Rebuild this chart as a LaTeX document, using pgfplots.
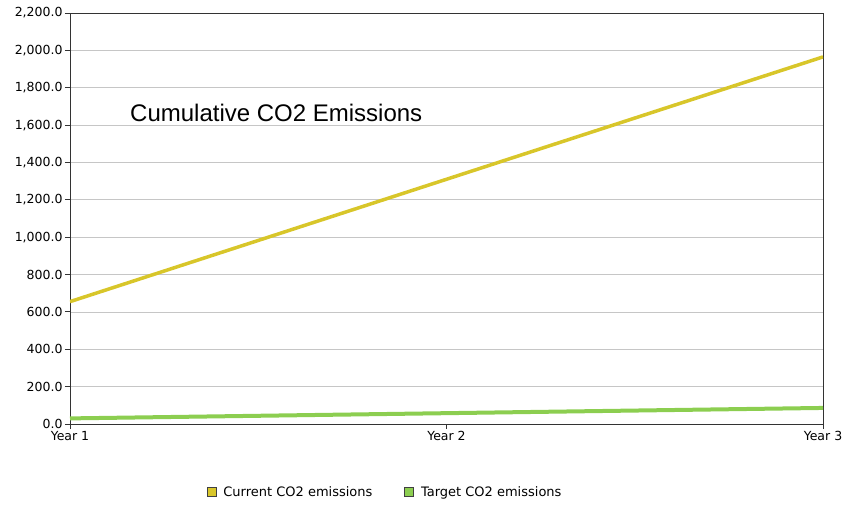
\documentclass[border=0pt]{standalone}
\usepackage{pgfplots}
\pgfplotsset{compat=1.18}
\usepackage{fontspec}
\setmainfont{DejaVu Sans}
\newfontfamily\arialfont{Liberation Sans}

\definecolor{curyel}{RGB}{216,198,42}
\definecolor{targrn}{RGB}{140,206,80}

\begin{document}
\begin{tikzpicture}
\begin{axis}[
    width=753pt, height=411pt,
    scale only axis,
    xmin=1, xmax=3,
    ymin=0, ymax=2200,
    ytick distance=200,
    xtick={1,2,3},
    xticklabels={Year 1,Year 2,Year 3},
    ymajorgrids=true,
    grid style={gray!45, line width=0.8pt},
    axis line style={black!80, line width=0.9pt},
    tick pos=left,
    tick align=outside,
    tick style={black!80, line width=0.9pt},
    major tick length=5pt,
    font=\fontsize{12.5}{14}\selectfont,
    /pgf/number format/assume math mode=true,
    yticklabel style={xshift=1pt,
        /pgf/number format/fixed,
        /pgf/number format/fixed zerofill,
        /pgf/number format/precision=1,
        /pgf/number format/1000 sep={,}},
    xticklabel style={yshift=1pt},
    legend style={at={(0.4185,-0.1655)}, anchor=center, draw=none,
        font=\fontsize{13}{15}\selectfont, legend columns=2,
        /tikz/every odd column/.append style={column sep=5pt},
        /tikz/every even column/.append style={column sep=30pt}},
    legend image code/.code={
        \draw[#1, draw=black!75, line width=0.6pt, fill] (0pt,-4.5pt) rectangle (9pt,4.5pt);
    },
]
\addplot[color=curyel, line width=3.5pt] coordinates {
    (1,655) (2,1310) (3,1965)
};
\addlegendentry{Current CO2 emissions}
\addplot[color=targrn, line width=4pt] coordinates {
    (1,30) (2,58) (3,86)
};
\addlegendentry{Target CO2 emissions}
\node[anchor=base west, font=\arialfont\fontsize{24}{28}\selectfont, inner sep=0pt]
    at (rel axis cs:0.0797,0.735) {Cumulative CO2 Emissions};
\end{axis}
\pgfresetboundingbox
\path[use as bounding box] (-70pt,-80pt) rectangle (775pt,424pt);
\end{tikzpicture}
\end{document}
